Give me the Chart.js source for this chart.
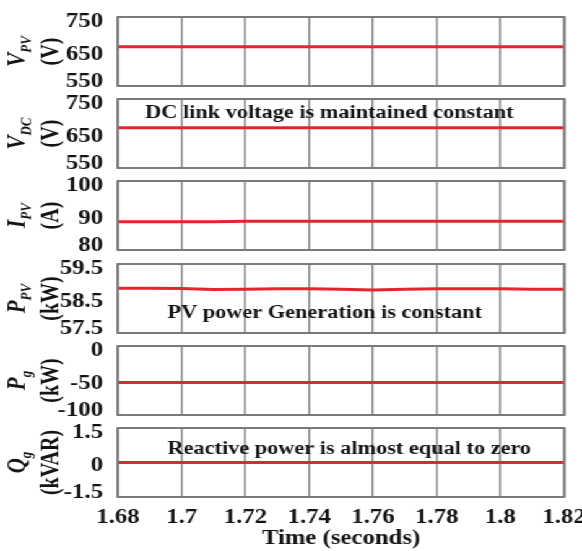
<!DOCTYPE html>
<html>
<head>
<meta charset="utf-8">
<script src="https://cdn.jsdelivr.net/npm/chart.js"></script>
<style>
  html, body { margin: 0; background: #fff; overflow: hidden; }
  /* figure is laid out at 470px and widened to 582px */
  #fig { position: relative; width: 470px; height: 551px; transform: scaleX(1.2383); transform-origin: 0 0; }
  #fig canvas { position: absolute; left: 0; }
</style>
</head>
<body>
<div id="fig"></div>
<script>
// time base (seconds)
const time = [1.68, 1.69, 1.70, 1.71, 1.72, 1.73, 1.74, 1.75, 1.76, 1.77, 1.78, 1.79, 1.80, 1.81, 1.82];
const xTicks = ['1.68', '1.7', '1.72', '1.74', '1.76', '1.78', '1.8', '1.82'];

// measured signals
const vpv = [664, 664, 664, 664, 664, 664, 664, 664, 664, 664, 664, 664, 664, 664, 664];
const vdc = [667, 667, 667, 667, 667, 667, 667, 667, 667, 667, 667, 667, 667, 667, 667];
const ipv = [88.2, 88.2, 88.2, 88.2, 88.3, 88.3, 88.3, 88.3, 88.3, 88.3, 88.3, 88.3, 88.3, 88.3, 88.3];
const ppv = [58.80, 58.80, 58.79, 58.76, 58.77, 58.78, 58.78, 58.77, 58.75, 58.77, 58.78, 58.78, 58.78, 58.77, 58.77];
const pg = [-53, -53, -53, -53, -53, -53, -53, -53, -53, -53, -53, -53, -53, -53, -53];
const qg = [0, 0, 0, 0, 0, 0, 0, 0, 0, 0, 0, 0, 0, 0, 0];

// y tick labels
const vpvTicks = ['550', '650', '750'];
const vdcTicks = ['550', '650', '750'];
const ipvTicks = ['80', '90', '100'];
const ppvTicks = ['57.5', '58.5', '59.5'];
const pgTicks = ['-100', '-50', '0'];
const qgTicks = ['-1.5', '0', '1.5'];

const serif = '"Liberation Serif", "Times New Roman", serif';
const ink = '#141414';
const red = '#e4252f';
const gridColor = '#888888';

const panels = [
  { sym: 'V', sub: 'PV', unit: '(V)', values: vpv, ticks: vpvTicks, min: 550, max: 750, step: 100 },
  { sym: 'V', sub: 'DC', unit: '(V)', values: vdc, ticks: vdcTicks, min: 550, max: 750, step: 100,
    note: { text: 'DC link voltage is maintained constant', dx: 22, dy: 14 } },
  { sym: 'I', sub: 'PV', unit: '(A)', values: ipv, ticks: ipvTicks, min: 80, max: 100, step: 10 },
  { sym: 'P', sub: 'PV', unit: '(kW)', values: ppv, ticks: ppvTicks, min: 57.5, max: 59.5, step: 1,
    note: { text: 'PV power Generation is constant', dx: 40, dy: 49 } },
  { sym: 'P', sub: 'g', unit: '(kW)', values: pg, ticks: pgTicks, min: -100, max: 0, step: 50 },
  { sym: 'Q', sub: 'g', unit: '(kVAR)', values: qg, ticks: qgTicks, min: -1.5, max: 1.5, step: 1.5,
    note: { text: 'Reactive power is almost equal to zero', dx: 40, dy: 21 } }
];
const tops = [17, 99, 181, 264, 346, 428];
const plotH = 69;
// y tick labels are pulled inside the box: bottom, middle, top (px, + is down)
const labelNudge = [-4, 3, 5];

// box around each plot
const frame = {
  id: 'frame',
  afterDraw(chart) {
    const { ctx, chartArea: a } = chart;
    ctx.save();
    ctx.strokeStyle = '#7a7a7a';
    ctx.lineWidth = 2;
    ctx.strokeRect(a.left, a.top, a.right - a.left, a.bottom - a.top);
    ctx.restore();
  }
};

// rotated two-line y label, symbol with subscript on the first line
const panelLabel = {
  id: 'panelLabel',
  afterDraw(chart, args, o) {
    if (!o || !o.sym) return;
    const { ctx, chartArea: a } = chart;
    const cy = (a.top + a.bottom) / 2;
    ctx.save();
    ctx.fillStyle = ink;
    ctx.textBaseline = 'alphabetic';
    ctx.translate(20, cy);
    ctx.rotate(-Math.PI / 2);
    ctx.font = 'italic bold 21px ' + serif;
    const w1 = ctx.measureText(o.sym).width;
    ctx.font = 'italic bold 13px ' + serif;
    const w2 = ctx.measureText(o.sub).width;
    const x0 = -(w1 + w2) / 2;
    ctx.font = 'italic bold 21px ' + serif;
    ctx.fillText(o.sym, x0, 0);
    ctx.font = 'italic bold 13px ' + serif;
    ctx.fillText(o.sub, x0 + w1, 5);
    ctx.restore();

    ctx.save();
    ctx.fillStyle = ink;
    ctx.translate(47, cy);
    ctx.rotate(-Math.PI / 2);
    ctx.font = 'bold 20px ' + serif;
    ctx.textAlign = 'center';
    ctx.fillText(o.unit, 0, 0);
    ctx.restore();
  }
};

const panelNote = {
  id: 'panelNote',
  afterDatasetsDraw(chart, args, o) {
    if (!o || !o.text) return;
    const { ctx, chartArea: a } = chart;
    ctx.save();
    ctx.font = 'bold 18px ' + serif;
    ctx.fillStyle = ink;
    ctx.textBaseline = 'middle';
    ctx.fillText(o.text, a.left + o.dx, a.top + o.dy);
    ctx.restore();
  }
};

const fig = document.getElementById('fig');
const tickFont = { family: serif, weight: 'bold', size: 20 };

panels.forEach((p, i) => {
  const last = i === panels.length - 1;
  const top = tops[i] - 12;
  const cv = document.createElement('canvas');
  cv.width = 470;
  cv.height = last ? 551 - top : plotH + 24;
  cv.style.top = top + 'px';
  fig.appendChild(cv);

  new Chart(cv, {
    type: 'line',
    data: {
      datasets: [{
        data: time.map((t, k) => ({ x: t, y: p.values[k] })),
        borderColor: red,
        borderWidth: 3,
        pointRadius: 0,
        tension: 0
      }]
    },
    options: {
      responsive: false,
      animation: false,
      events: [],
      layout: { padding: { top: 12, bottom: last ? 0 : 12, left: 0, right: 14.4 } },
      plugins: {
        legend: { display: false },
        tooltip: { enabled: false },
        panelLabel: { sym: p.sym, sub: p.sub, unit: p.unit },
        panelNote: p.note || {}
      },
      scales: {
        x: {
          type: 'linear',
          min: 1.68,
          max: 1.82,
          ticks: {
            stepSize: 0.02,
            display: last,
            autoSkip: false,
            maxRotation: 0,
            padding: 9,
            font: tickFont,
            color: ink,
            callback: (v, k) => xTicks[k]
          },
          grid: { color: gridColor, lineWidth: 1.5, drawTicks: false },
          border: { display: false },
          title: { display: last, text: 'Time (seconds)', font: tickFont, color: ink, padding: 0 },
          afterFit: s => { s.height = last ? 54 : 0; s.paddingLeft = 0; s.paddingRight = 0; }
        },
        y: {
          min: p.min,
          max: p.max,
          ticks: {
            stepSize: p.step,
            autoSkip: false,
            padding: 4,
            font: tickFont,
            color: ink,
            callback: (v, k) => p.ticks[k]
          },
          grid: { display: false },
          border: { display: false },
          afterTickToLabelConversion: s => {
            const r = p.max - p.min;
            s.ticks.forEach((t, k) => { t.value -= labelNudge[k] * r / plotH; });
          },
          afterFit: s => { s.width = 95.2; s.paddingTop = 0; s.paddingBottom = 0; }
        }
      }
    },
    plugins: [frame, panelLabel, panelNote]
  });
});
</script>
</body>
</html>
